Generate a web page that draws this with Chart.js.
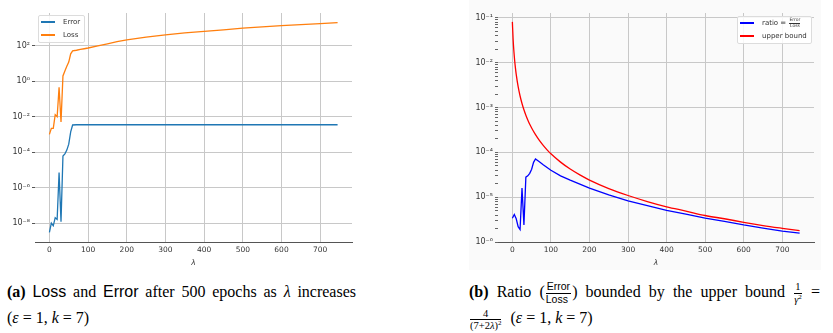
<!DOCTYPE html>
<html>
<head>
<meta charset="utf-8">
<script src="https://cdn.jsdelivr.net/npm/chart.js@4"></script>
<style>
  body { margin: 0; width: 833px; height: 333px; background: #fff; position: relative; overflow: hidden; }
  .box { position: absolute; }
  .leg { position: absolute; border: 1px solid #dcdcdc; border-radius: 2px; background: rgba(255,255,255,0.85);
         font: 7px "DejaVu Sans"; color: #333; padding: 0 4px 1px 2px; }
  .leg .row { height: 12.5px; display: flex; align-items: center; white-space: nowrap; }
  .leg .sw { display: inline-block; width: 14px; height: 1.6px; margin-right: 8px; }
  .lfr { display: inline-flex; flex-direction: column; vertical-align: middle; font-size: 4.5px; line-height: 1.1; text-align: center; margin-left: 1px; }
  .lfr .num { border-bottom: 0.5px solid #333; }
  .cap { position: absolute; font: 16px "Liberation Serif"; line-height: 26px; color: #000; }
  .just { text-align: justify; text-align-last: justify; }
  .sf { font-family: "Liberation Sans"; }
  .fr { display: inline-flex; flex-direction: column; vertical-align: middle; font-size: 10.5px; line-height: 1.1; text-align: center; margin: 0 1px; }
  .fr .num { border-bottom: 0.8px solid #000; padding: 0 1px; }
  .fr sup { font-size: 7px; line-height: 0; }
</style>
</head>
<body>
<div class="box" style="left:469px;top:0;width:352px;height:270px;background:#fafafa"></div>
<div class="box" style="left:0;top:0"><canvas id="chartA" width="362" height="272"></canvas></div>
<div class="box" style="left:440px;top:0"><canvas id="chartB" width="384" height="272"></canvas></div>
<div class="leg" id="legA" style="left:38px;top:15px"></div>
<div class="leg" id="legB" style="left:737px;top:16px"></div>

<div class="cap" style="left:7px;top:279px;width:349px">
  <div class="just"><b>(a)</b> <span class="sf">Loss</span> and <span class="sf">Error</span> after 500 epochs as <i>λ</i> increases</div>
  <div>(<i>ε</i> = 1, <i>k</i> = 7)</div>
</div>
<div class="cap" style="left:469px;top:279px;width:351px">
  <div class="just"><b>(b)</b> Ratio (<span class="fr sf"><span class="num">Error</span><span>Loss</span></span>) bounded by the upper bound <span class="fr"><span class="num">1</span><span><i>γ</i><sup>2</sup></span></span> =</div>
  <div><span class="fr"><span class="num">4</span><span>(7+2<i>λ</i>)<sup>2</sup></span></span>&nbsp;&nbsp;(<i>ε</i> = 1, <i>k</i> = 7)</div>
</div>

<script>
// λ values used for the sweep
const lambdas = [0, 5, 10, 15, 20, 25, 30, 35, 40, 45, 50, 55, 60, 70, 80, 90, 100, 125, 150, 175,
  200, 250, 300, 350, 400, 450, 500, 550, 600, 650, 700, 745];

const errorVals = [3e-9, 1e-8, 7e-9, 2e-8, 1.6e-8, 7e-6, 1.2e-8, 6e-5, 8e-5, 1.3e-4, 2.8e-4, 1.4e-3, 3.4e-3,
  3.5e-3, 3.5e-3, 3.5e-3, 3.5e-3, 3.5e-3, 3.5e-3, 3.5e-3, 3.5e-3, 3.5e-3, 3.5e-3, 3.5e-3, 3.5e-3,
  3.5e-3, 3.5e-3, 3.5e-3, 3.5e-3, 3.5e-3, 3.5e-3, 3.5e-3];

const lossVals = [1e-3, 2.2e-3, 2.2e-3, 1.3e-2, 1e-2, 0.45, 5e-3, 2, 3.8, 7, 12, 35, 52,
  56, 62, 68, 75, 100, 130, 170, 215, 310, 415, 530, 650, 800, 980, 1170, 1380, 1580, 1780, 2050];

const ratioVals = [3.4e-6, 4.1e-6, 3.3e-6, 2.2e-6, 1.9e-6, 1.6e-5, 2.4e-6, 2.8e-5, 3.0e-5, 3.4e-5, 4.2e-5, 6e-5, 7.1e-5,
  6.2e-5, 5.3e-5, 4.6e-5, 4.0e-5, 3.0e-5, 2.4e-5, 1.95e-5, 1.6e-5, 1.12e-5, 8.3e-6, 6.5e-6, 5.1e-6,
  4.2e-6, 3.4e-6, 2.9e-6, 2.4e-6, 2.05e-6, 1.75e-6, 1.58e-6];

// upper bound curve, read at a finer step near 0
const boundLambdas = [0, 2, 4, 6, 8, 10, 15, 20, 25, 30, 35, 40, 45, 50, 60, 70, 80, 90, 100, 125, 150, 175, 200,
  250, 300, 350, 400, 450, 500, 550, 600, 650, 700, 745];
const boundVals = [0.0816, 0.0331, 0.0178, 0.0111, 7.6e-3, 5.5e-3, 2.92e-3, 1.81e-3, 1.23e-3, 8.9e-4, 6.75e-4, 5.3e-4,
  4.25e-4, 3.5e-4, 2.48e-4, 1.85e-4, 1.43e-4, 1.14e-4, 9.3e-5, 6.06e-5, 4.24e-5, 3.14e-5, 2.41e-5,
  1.56e-5, 1.09e-5, 8.0e-6, 6.1e-6, 4.9e-6, 3.9e-6, 3.3e-6, 2.75e-6, 2.33e-6, 2.02e-6, 1.79e-6];

const xTicks = [0, 100, 200, 300, 400, 500, 600, 700];
const leftExps = [-8, -6, -4, -2, 0, 2];
const rightExps = [-6, -5, -4, -3, -2, -1];

const FONT = "DejaVu Sans";
const GRID = "#c8c8c8";
const TXT = "#333";

const SUP = { "-": "⁻", "0": "⁰", "1": "¹", "2": "²", "3": "³", "4": "⁴", "5": "⁵", "6": "⁶", "7": "⁷", "8": "⁸", "9": "⁹" };
function pow10Label(v) {
  const e = Math.round(Math.log10(v));
  return "10" + String(e).split("").map(c => SUP[c]).join("");
}
function isDecade(v) {
  const l = Math.log10(v);
  return Math.abs(l - Math.round(l)) < 1e-6;
}
function pts(xs, ys) {
  return xs.map((x, i) => ({ x: x, y: ys[i] }));
}

function xScale() {
  return {
    type: "linear",
    min: -37.25,
    max: 782.25,
    afterBuildTicks: s => { s.ticks = xTicks.map(v => ({ value: v })); },
    afterFit: s => { s.height = 30; },
    grid: { color: GRID, drawTicks: false },
    border: { color: "#555", width: 1 },
    ticks: { font: { family: FONT, size: 7.5 }, color: TXT, padding: 4, maxRotation: 0, autoSkip: false },
    title: { display: true, text: "λ", font: { family: FONT, size: 7.5, style: "italic" }, color: TXT, padding: { top: 0, bottom: 4 } }
  };
}

function baseOptions(yScale) {
  return {
    responsive: false,
    devicePixelRatio: 1,
    animation: false,
    layout: { padding: { top: 13, right: 10, left: 0, bottom: 0 } },
    plugins: { legend: { display: false }, tooltip: { enabled: false } },
    elements: { point: { radius: 0 }, line: { borderWidth: 1.3 } },
    scales: { x: xScale(), y: yScale }
  };
}

const dsA = [
  { label: "Error", data: pts(lambdas, errorVals), borderColor: "#1f77b4" },
  { label: "Loss", data: pts(lambdas, lossVals), borderColor: "#ff7f0e" }
];

new Chart(document.getElementById("chartA"), {
  type: "line",
  data: { datasets: dsA },
  options: baseOptions({
    type: "logarithmic",
    min: Math.pow(10, -9.07),
    max: Math.pow(10, 3.85),
    afterBuildTicks: s => { s.ticks = leftExps.map(e => ({ value: Math.pow(10, e) })); },
    afterFit: s => { s.width = 35; },
    grid: { color: GRID, tickColor: "#555", tickLength: 3 },
    border: { display: false },
    ticks: { callback: v => pow10Label(v), font: { family: FONT, size: 8 }, color: TXT, padding: 2, autoSkip: false }
  })
});

const dsB = [
  { label: "ratio", html: 'ratio = <span class="lfr"><span class="num">Error</span><span>Loss</span></span>',
    data: pts(lambdas, ratioVals), borderColor: "#0000ff" },
  { label: "upper bound", html: "upper bound", data: pts(boundLambdas, boundVals), borderColor: "#ff0000",
    cubicInterpolationMode: "monotone" }
];

new Chart(document.getElementById("chartB"), {
  type: "line",
  data: { datasets: dsB },
  options: baseOptions({
    type: "logarithmic",
    min: 1e-6,
    max: Math.pow(10, -0.89),
    afterBuildTicks: s => {
      const t = [];
      rightExps.forEach(e => {
        for (let m = 1; m <= 9; m++) {
          const v = m * Math.pow(10, e);
          if (v <= s.max) t.push({ value: v });
        }
      });
      s.ticks = t;
    },
    afterFit: s => { s.width = 58; },
    grid: {
      color: c => (c.tick && isDecade(c.tick.value) ? GRID : "rgba(0,0,0,0)"),
      tickColor: "#666",
      tickLength: 3
    },
    border: { display: false },
    ticks: {
      callback: v => (isDecade(v) ? pow10Label(v) : ""),
      font: { family: FONT, size: 8 }, color: TXT, padding: 2, autoSkip: false
    }
  })
});

// small legends placed inside the plot areas
function buildLegend(id, sets) {
  const el = document.getElementById(id);
  el.innerHTML = sets.map(d =>
    '<div class="row"><span class="sw" style="background:' + d.borderColor + '"></span><span>' +
    (d.html || d.label) + "</span></div>").join("");
}
buildLegend("legA", dsA);
buildLegend("legB", dsB);
</script>
</body>
</html>
